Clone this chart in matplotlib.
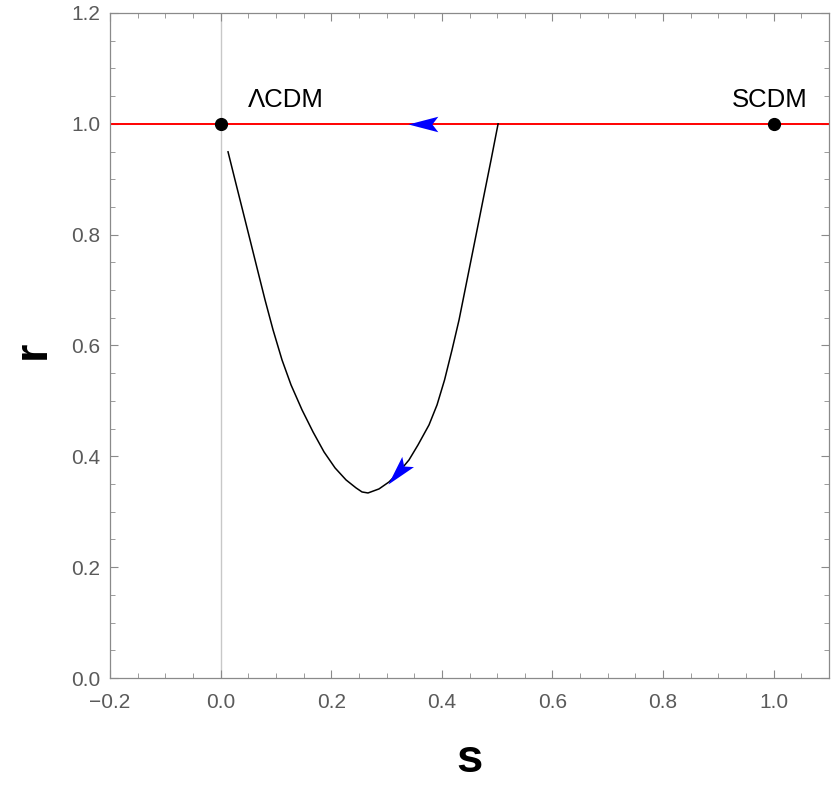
import numpy as np
import matplotlib
matplotlib.use('Agg')
import matplotlib.pyplot as plt
from matplotlib.markers import MarkerStyle
from matplotlib.path import Path
from matplotlib.ticker import MultipleLocator

# trajectory in the (s, r) plane
s_curve = [0.0134, 0.0260, 0.0396, 0.0532, 0.0667, 0.0803, 0.0948, 0.1110, 0.1273,
           0.1472, 0.1671, 0.1870, 0.2069, 0.2268, 0.2449, 0.2557, 0.2665, 0.2864,
           0.3045, 0.3225, 0.3406, 0.3569, 0.3768, 0.3913, 0.4049, 0.4184, 0.4311,
           0.4456, 0.4601, 0.4745, 0.4890, 0.5017]
r_curve = [0.9495, 0.8989, 0.8448, 0.7906, 0.7365, 0.6823, 0.6282, 0.5740, 0.5289,
           0.4838, 0.4440, 0.4079, 0.3791, 0.3574, 0.3430, 0.3357, 0.3339, 0.3412,
           0.3538, 0.3718, 0.3935, 0.4206, 0.4567, 0.4928, 0.5379, 0.5921, 0.6462,
           0.7184, 0.7906, 0.8628, 0.9350, 1.0000]

# fixed points
fp_s = [0.0, 1.0]
fp_r = [1.0, 1.0]
fp_names = ['\u039bCDM', 'SCDM']
fp_label_s = [0.05, 1.062]
fp_label_r = [1.031, 1.031]
fp_label_ha = ['left', 'right']

r_lcdm = 1.0

# arrow heads: tip and a point just behind it (gives the direction)
arrow_tip_s = [0.339, 0.303]
arrow_tip_r = [1.0, 0.350]
arrow_back_s = [0.39, 0.338]
arrow_back_r = [1.0, 0.390]

FONT = ['Liberation Sans', 'DejaVu Sans']
TICK_GRAY = '#5a5a5a'
FRAME_GRAY = '#8a8a8a'

fig = plt.figure(figsize=(8.34, 7.86), dpi=100)
ax = fig.add_axes([110 / 834, 108 / 786, 719 / 834, 665 / 786])
ax.set_xlim(-0.2, 1.1)
ax.set_ylim(0.0, 1.2)

# light axis line at s = 0
ax.axvline(0.0, color='#c8c8c8', lw=1.0, zorder=1)
# r = 1 line
ax.axhline(r_lcdm, color='red', lw=1.4, zorder=2)
# trajectory
ax.plot(s_curve, r_curve, color='black', lw=1.1, zorder=3)

# fixed points and their labels
ax.plot(fp_s, fp_r, 'o', color='black', ms=8.5, zorder=5)
for name, xs, yr, ha in zip(fp_names, fp_label_s, fp_label_r, fp_label_ha):
    ax.text(xs, yr, name, ha=ha, va='baseline', fontsize=18.5, family=FONT)

# notched arrow heads (Mathematica style)
head = Path([(0, 0), (-1, 0.26), (-0.8, 0), (-1, -0.26), (0, 0)],
            [Path.MOVETO, Path.LINETO, Path.LINETO, Path.LINETO, Path.CLOSEPOLY])
for ts, tr, bs, br in zip(arrow_tip_s, arrow_tip_r, arrow_back_s, arrow_back_r):
    p_tip = ax.transData.transform((ts, tr))
    p_back = ax.transData.transform((bs, br))
    ang = np.degrees(np.arctan2(p_tip[1] - p_back[1], p_tip[0] - p_back[0]))
    m = MarkerStyle(head).rotated(deg=ang)
    ax.plot([ts], [tr], marker=m, ms=43, color='blue', mew=0, ls='none', zorder=6)

# ticks and frame
ax.xaxis.set_major_locator(MultipleLocator(0.2))
ax.xaxis.set_minor_locator(MultipleLocator(0.05))
ax.yaxis.set_major_locator(MultipleLocator(0.2))
ax.yaxis.set_minor_locator(MultipleLocator(0.05))
ax.tick_params(which='both', direction='in', top=True, right=True,
               color=FRAME_GRAY, labelcolor=TICK_GRAY, labelsize=15)
ax.tick_params(which='major', length=5.8, width=0.8)
ax.tick_params(which='minor', length=3.6, width=0.6)
ax.tick_params(axis='x', which='major', pad=11)
ax.tick_params(axis='y', which='major', pad=7)
ax.xaxis.set_major_formatter(plt.FuncFormatter(lambda v, p: f'{v:.1f}'.replace('-', '\u2212')))
ax.yaxis.set_major_formatter(plt.FuncFormatter(lambda v, p: f'{v:.1f}'))
for lab in ax.get_xticklabels() + ax.get_yticklabels():
    lab.set_family(FONT)
for sp in ax.spines.values():
    sp.set_color(FRAME_GRAY)
    sp.set_linewidth(0.9)

# axis titles placed in figure pixels like the reference
fig.text(470 / 834, 1 - 760 / 786, 's', fontsize=34, fontweight='bold', family=FONT,
         ha='center', va='center')
fig.text(33 / 834, 1 - 350 / 786, 'r', fontsize=34, fontweight='bold', family=FONT,
         ha='center', va='center', rotation=90)

fig.savefig('out.png', dpi=100)
